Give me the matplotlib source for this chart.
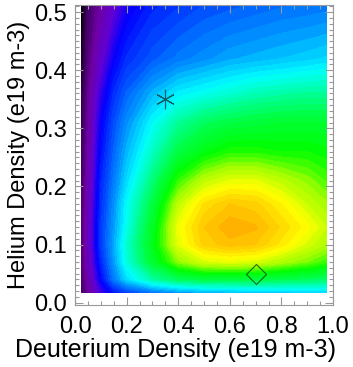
import numpy as np
import matplotlib
matplotlib.use('Agg')
import matplotlib.pyplot as plt
from matplotlib.colors import LinearSegmentedColormap
from matplotlib.ticker import MultipleLocator

# grid points (densities, e19 m-3) and values (0..1 colour scale)
deut = [0.025, 0.05, 0.1, 0.15, 0.2, 0.3, 0.4, 0.5, 0.6, 0.7, 0.8, 0.9, 0.975]
helium = [0.018, 0.04, 0.07, 0.1, 0.13, 0.17, 0.21, 0.26, 0.31, 0.36, 0.42, 0.512]
level = [
    [0.08, 0.13, 0.23, 0.30, 0.34, 0.39, 0.42, 0.44, 0.45, 0.46, 0.46, 0.47, 0.47],
    [0.09, 0.14, 0.28, 0.39, 0.47, 0.56, 0.61, 0.63, 0.63, 0.63, 0.62, 0.61, 0.60],
    [0.10, 0.16, 0.31, 0.42, 0.52, 0.65, 0.76, 0.81, 0.82, 0.81, 0.78, 0.75, 0.72],
    [0.10, 0.17, 0.33, 0.43, 0.53, 0.67, 0.82, 0.89, 0.91, 0.90, 0.86, 0.81, 0.78],
    [0.10, 0.17, 0.33, 0.42, 0.51, 0.66, 0.83, 0.90, 0.93, 0.92, 0.88, 0.84, 0.80],
    [0.09, 0.16, 0.32, 0.41, 0.50, 0.63, 0.79, 0.87, 0.90, 0.89, 0.85, 0.80, 0.77],
    [0.08, 0.15, 0.31, 0.39, 0.47, 0.59, 0.72, 0.79, 0.82, 0.82, 0.79, 0.76, 0.73],
    [0.07, 0.14, 0.29, 0.37, 0.44, 0.54, 0.63, 0.68, 0.71, 0.71, 0.70, 0.70, 0.69],
    [0.06, 0.13, 0.27, 0.35, 0.41, 0.50, 0.57, 0.61, 0.63, 0.64, 0.65, 0.65, 0.65],
    [0.05, 0.12, 0.24, 0.32, 0.37, 0.44, 0.49, 0.51, 0.53, 0.55, 0.56, 0.57, 0.57],
    [0.03, 0.10, 0.19, 0.27, 0.32, 0.36, 0.39, 0.41, 0.43, 0.44, 0.45, 0.46, 0.47],
    [0.00, 0.08, 0.14, 0.20, 0.26, 0.31, 0.33, 0.35, 0.36, 0.37, 0.38, 0.385, 0.39],
]
star_pt = (0.35, 0.35)
diamond_pt = (0.7, 0.05)

# IDL style rainbow
stops = [
    (0.00, (0, 0, 0)),
    (0.07, (60, 0, 90)),
    (0.14, (110, 0, 165)),
    (0.21, (95, 0, 215)),
    (0.28, (0, 0, 255)),
    (0.40, (0, 130, 255)),
    (0.50, (0, 255, 255)),
    (0.62, (0, 255, 80)),
    (0.70, (0, 255, 0)),
    (0.77, (160, 255, 0)),
    (0.84, (255, 255, 0)),
    (0.93, (255, 175, 0)),
    (1.00, (255, 0, 0)),
]
cmap = LinearSegmentedColormap.from_list(
    'idl', [(p, tuple(c / 255 for c in rgb)) for p, rgb in stops])

plt.rcParams['font.family'] = ['Liberation Sans', 'DejaVu Sans']

fig = plt.figure(figsize=(3.53, 3.67), dpi=100)
ax = fig.add_axes([0.2125, 0.169, 0.731, 0.817])

X, Y = np.meshgrid(deut, helium)
ax.contourf(X, Y, np.array(level), levels=np.linspace(0, 1, 61), cmap=cmap,
            vmin=0, vmax=1)

ax.plot(*star_pt, marker=(6, 2, 0), ms=14, mew=0.8, color='#0d4040', alpha=0.8)
ax.plot(*diamond_pt, marker='D', ms=10, mew=0.8, mfc='none', mec='#0d4010',
        alpha=0.8)

ax.set_xlim(0, 1)
ax.set_ylim(-0.004, 0.512)
ax.xaxis.set_major_locator(MultipleLocator(0.2))
ax.xaxis.set_minor_locator(MultipleLocator(0.05))
ax.yaxis.set_major_locator(MultipleLocator(0.1))
ax.yaxis.set_minor_locator(MultipleLocator(0.01))
ax.xaxis.set_major_formatter(lambda v, p: f'{v:.1f}')
ax.yaxis.set_major_formatter(lambda v, p: f'{v:.1f}')
ax.tick_params(which='both', direction='in', top=True, right=True,
               color='#999999', labelsize=17, width=0.8)
ax.tick_params(which='major', length=6)
ax.tick_params(which='minor', length=3)
ax.tick_params(axis='x', which='major', pad=8)
ax.tick_params(axis='y', which='major', pad=6)
for s in ax.spines.values():
    s.set_color('#999999')
    s.set_linewidth(0.8)

ax.set_xlabel('Deuterium Density (e19 m-3)', fontsize=18, labelpad=0, x=0.388)
ax.set_ylabel('Helium Density (e19 m-3)', fontsize=17, labelpad=3)

fig.savefig('out.png', dpi=100)
